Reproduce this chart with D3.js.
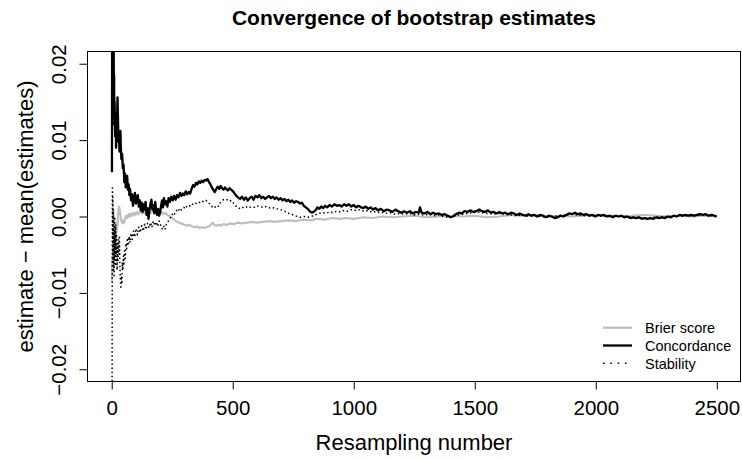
<!DOCTYPE html>
<html>
<head>
<meta charset="utf-8">
<script src="https://cdn.jsdelivr.net/npm/d3@7"></script>
<style>
  html, body { margin: 0; padding: 0; background: #fff; }
  svg { display: block; font-family: "Liberation Sans", Arial, Helvetica, sans-serif; }
</style>
</head>
<body>
<svg id="chart" width="742" height="460"></svg>
<script>
// Deviation of each running bootstrap estimate from the mean of all estimates,
// tracked against the resampling number.
const conN = [1,2,3,4,5,6,7,8,9,10,11,12,14,16,18,20,22,24,26,28,30,32,34,36,38,40,43,46,49,52,55,58,61,64,67,70,73,76,80,84,88,92,96,100,104,108,112,116,120,124,128,132,136,140,144,148,152,156,160,164,168,172,176,180,184,188,192,196,200,204,208,212,216,220,225,230,235,240,246,252,258,264,270,276,282,288,294,300,306,312,318,324,330,336,342,348,354,360,366,372,378,384,390,396,402,408,414,420,426,432,438,444,450,456,462,468,474,480,487,494,501,508,515,522,530,538,546,554,562,570,578,586,594,602,610,618,626,634,642,650,658,666,674,682,690,698,706,714,722,730,738,746,754,762,770,778,786,794,802,810,818,826,834,842,850,858,866,874,882,890,900,910,920,930,940,950,960,970,980,990,1000,1010,1020,1030,1040,1050,1060,1070,1080,1090,1100,1112,1124,1136,1148,1160,1172,1184,1196,1208,1220,1232,1244,1256,1268,1274,1280,1292,1304,1316,1328,1340,1352,1364,1376,1388,1400,1410,1422,1434,1446,1458,1470,1482,1494,1506,1518,1530,1542,1554,1566,1578,1590,1602,1614,1626,1638,1650,1662,1674,1686,1698,1710,1722,1734,1746,1758,1770,1782,1794,1806,1818,1830,1842,1854,1866,1878,1890,1902,1914,1926,1938,1950,1962,1974,1986,1998,2010,2022,2034,2046,2058,2070,2082,2094,2106,2118,2130,2142,2154,2166,2178,2190,2202,2214,2226,2238,2250,2262,2274,2286,2298,2310,2322,2334,2346,2358,2370,2382,2394,2406,2418,2430,2442,2454,2466,2478,2490,2500];
const conV = [0.0058,0.029,0.024,0.031,0.022,0.027,0.019,0.024,0.016,0.0185,0.012,0.015,0.0105,0.0135,0.009,0.011,0.0125,0.0156,0.0128,0.0098,0.0105,0.0085,0.0095,0.0112,0.0088,0.0075,0.0082,0.0063,0.0068,0.0045,0.0056,0.0038,0.0046,0.0053,0.0035,0.0042,0.0028,0.0036,0.0021,0.0029,0.0014,0.0024,0.0031,0.0017,0.0024,0.0028,0.0013,0.0021,0.0008,0.0018,0.0006,0.0016,0.0009,0.0019,0.0002,0.0011,-0.0003,0.0008,0.0016,0.0022,0.0009,0.0015,0.0004,0.0019,0.0007,0.0002,0.0010,0.0001,0.0005,0.0014,0.0021,0.0012,0.0024,0.0016,0.0020,0.0013,0.0024,0.0019,0.0026,0.0021,0.0027,0.0022,0.0028,0.0025,0.0031,0.0027,0.0030,0.0028,0.0033,0.0029,0.0032,0.0030,0.0036,0.0041,0.0039,0.0044,0.0042,0.0046,0.0044,0.0047,0.0045,0.0048,0.0047,0.0049,0.0045,0.0042,0.0038,0.0035,0.0032,0.0036,0.0039,0.0036,0.0040,0.0037,0.0035,0.0038,0.0036,0.0034,0.0037,0.0035,0.0033,0.0030,0.0027,0.0025,0.0023,0.0026,0.0022,0.0025,0.0021,0.0024,0.0026,0.0022,0.0027,0.0025,0.0028,0.0024,0.0026,0.0023,0.0025,0.0027,0.0024,0.0026,0.0023,0.0025,0.0022,0.0024,0.0021,0.0023,0.0020,0.0022,0.0019,0.0021,0.0018,0.0020,0.0019,0.0017,0.0018,0.0014,0.0012,0.0010,0.0007,0.0005,0.0006,0.0008,0.0012,0.0010,0.0013,0.0011,0.0014,0.0012,0.0015,0.0013,0.0016,0.0014,0.0015,0.0013,0.0016,0.0014,0.0016,0.0013,0.0015,0.0012,0.0014,0.0012,0.0011,0.0013,0.0010,0.0012,0.0009,0.0011,0.0008,0.0010,0.0007,0.0009,0.0008,0.0006,0.0009,0.0007,0.0005,0.0007,0.0005,0.0007,0.0004,0.0006,0.0005,0.0012,0.0005,0.0004,0.0006,0.0003,0.0005,0.0003,0.0004,0.0002,0.0003,0.0001,-0.0001,0.0000,0.0003,0.0005,0.0004,0.0007,0.0006,0.0008,0.0006,0.0007,0.0009,0.0007,0.0006,0.0008,0.0005,0.0006,0.0004,0.0006,0.0004,0.0005,0.0003,0.0005,0.0004,0.0002,0.0004,0.0002,0.0001,0.0003,0.0001,0.0002,0.0000,0.0002,0.0001,-0.0001,0.0001,0.0000,-0.0002,-0.0001,0.0001,0.0000,0.0002,0.0004,0.0003,0.0005,0.0003,0.0004,0.0002,0.0003,0.0001,0.0002,0.0000,0.0002,0.0001,0.0002,0.0000,0.0001,-0.0001,0.0001,0.0000,0.0001,-0.0001,0.0000,-0.0002,-0.0001,-0.0002,-0.0001,-0.0003,-0.0002,-0.0003,-0.0002,-0.0003,-0.0001,-0.0002,-0.0001,-0.0002,0.0000,-0.0001,0.0001,0.0000,0.0002,0.0001,0.0002,0.0001,0.0002,0.0001,0.0002,0.0003,0.0002,0.0003,0.0001,0.0002,0.0001,0.0000];

const brierN = [1,2,3,4,5,6,7,8,9,10,12,14,16,18,20,22,24,26,28,30,32,34,36,38,40,44,48,52,56,60,65,70,75,80,86,92,98,104,110,118,126,134,142,150,158,166,174,182,190,198,206,214,222,230,238,246,254,262,270,278,286,294,302,312,322,332,342,352,362,372,382,392,402,412,418,424,432,442,452,462,475,490,505,520,540,560,580,600,625,650,675,700,730,760,790,820,850,880,910,940,970,1000,1040,1080,1120,1160,1200,1250,1300,1350,1400,1450,1500,1550,1600,1650,1700,1750,1800,1850,1900,1950,2000,2050,2100,2150,2200,2250,2300,2350,2400,2450,2500];
const brierV = [-0.0085,-0.0060,-0.0078,-0.0052,-0.0068,-0.0045,-0.0058,-0.0038,-0.0050,-0.0032,-0.0042,-0.0022,-0.0030,-0.0014,-0.0020,-0.0008,-0.0013,0.0002,0.0008,0.0013,0.0011,0.0006,0.0002,-0.0003,-0.0006,-0.0009,-0.0005,-0.0008,-0.0002,0.0001,-0.0002,0.0003,0.0000,0.0004,0.0001,0.0005,0.0002,0.0006,0.0003,0.0007,0.0004,0.0006,0.0003,0.0007,0.0004,0.0006,0.0008,0.0005,0.0007,0.0004,0.0006,0.0003,0.0005,0.0002,0.0001,-0.0001,-0.0003,-0.0005,-0.0007,-0.0008,-0.0009,-0.0010,-0.0011,-0.0012,-0.0011,-0.0013,-0.0014,-0.0013,-0.0015,-0.0014,-0.0015,-0.0014,-0.0013,-0.0010,-0.0008,-0.0011,-0.0012,-0.0011,-0.0012,-0.0010,-0.0011,-0.0009,-0.0010,-0.0008,-0.0009,-0.0008,-0.0007,-0.0008,-0.0007,-0.0006,-0.0007,-0.0006,-0.0005,-0.0006,-0.0004,-0.0005,-0.0003,-0.0004,-0.0002,-0.0003,-0.0002,-0.0003,-0.0001,-0.0002,0.0000,-0.0001,0.0000,0.0001,-0.0001,0.0000,0.0001,0.0000,0.0001,-0.0001,0.0000,0.0002,0.0001,0.0002,0.0000,0.0001,0.0000,0.0001,0.0002,0.0001,0.0000,0.0001,0.0002,0.0001,0.0000,0.0001,0.0000,0.0001,0.0000];

const stabN = [1,2,3,4,5,6,7,8,9,10,11,12,13,14,15,16,18,20,22,24,26,28,30,32,34,36,38,40,42,44,46,48,50,53,56,59,62,65,68,72,76,80,85,90,95,100,106,112,118,124,130,136,142,148,154,160,166,172,178,184,190,196,202,208,214,220,226,232,238,244,250,256,262,268,274,280,286,292,298,304,310,318,326,334,342,350,358,366,374,382,390,398,406,414,422,430,438,446,454,462,470,478,486,494,502,510,518,526,534,542,550,560,570,580,590,600,612,624,636,648,660,672,684,696,708,720,732,744,756,768,780,795,810,825,840,855,870,885,900,915,930,945,960,975,990,1005,1020,1035,1050,1065,1080,1095,1110,1130,1150,1170,1190,1210,1230,1250,1270,1290,1310,1330,1350,1370,1390,1410,1430,1450,1470,1490,1510,1530,1550,1575,1600,1625,1650,1675,1700,1725,1750,1775,1800,1825,1850,1875,1900,1925,1950,1975,2000,2050,2100,2150,2200,2250,2300,2350,2400,2450,2500];
const stabV = [-0.035,-0.012,0.0040,-0.0060,0.0025,-0.0045,0.0010,-0.0070,-0.0015,-0.0080,-0.0030,0.0000,-0.0055,-0.0020,-0.0065,-0.0010,-0.0050,-0.0025,-0.0070,-0.0035,-0.0060,-0.0030,-0.0050,-0.0025,-0.0068,-0.0085,-0.0095,-0.0078,-0.0088,-0.0060,-0.0070,-0.0052,-0.0062,-0.0045,-0.0055,-0.0035,-0.0042,-0.0028,-0.0038,-0.0026,-0.0034,-0.0022,-0.0030,-0.0019,-0.0027,-0.0016,-0.0024,-0.0014,-0.0021,-0.0012,-0.0019,-0.0010,-0.0017,-0.0009,-0.0015,-0.0008,-0.0014,-0.0006,-0.0012,-0.0007,-0.0013,-0.0006,-0.0011,-0.0016,-0.0012,-0.0017,-0.0010,-0.0007,-0.0004,-0.0001,0.0003,0.0001,0.0005,0.0008,0.0006,0.0010,0.0008,0.0011,0.0012,0.0010,0.0013,0.0015,0.0013,0.0016,0.0018,0.0017,0.0019,0.0018,0.0020,0.0019,0.0021,0.0019,0.0016,0.0013,0.0011,0.0013,0.0012,0.0017,0.0020,0.0022,0.0021,0.0022,0.0020,0.0021,0.0018,0.0015,0.0012,0.0011,0.0010,0.0012,0.0011,0.0013,0.0012,0.0013,0.0012,0.0014,0.0013,0.0012,0.0013,0.0011,0.0012,0.0011,0.0010,0.0009,0.0008,0.0006,0.0004,0.0003,0.0001,0.0000,-0.0001,0.0000,-0.0001,0.0000,0.0002,0.0004,0.0005,0.0004,0.0006,0.0005,0.0007,0.0006,0.0008,0.0007,0.0009,0.0008,0.0009,0.0007,0.0008,0.0006,0.0007,0.0005,0.0006,0.0004,0.0005,0.0003,0.0004,0.0003,0.0004,0.0002,0.0003,0.0002,0.0003,0.0001,0.0002,0.0000,-0.0001,0.0000,0.0002,0.0003,0.0004,0.0005,0.0006,0.0005,0.0004,0.0003,0.0004,0.0003,0.0002,0.0001,0.0002,0.0000,0.0001,0.0000,-0.0001,0.0000,0.0001,0.0002,0.0003,0.0002,0.0001,0.0002,0.0001,0.0000,0.0001,-0.0001,-0.0002,-0.0001,0.0000,0.0001,0.0001,0.0002,0.0000];

const xTicks = [0, 500, 1000, 1500, 2000, 2500];
const yTicks = [-0.02, -0.01, 0, 0.01, 0.02];
const yTickLabels = ["\u22120.02", "\u22120.01", "0.00", "0.01", "0.02"];
const seriesNames = ["Brier score", "Concordance", "Stability"];

const titleText = "Convergence of bootstrap estimates";
const xTitle = "Resampling number";
const yTitle = "estimate \u2212 mean(estimates)";

[[conN, conV], [brierN, brierV], [stabN, stabV]].forEach(([a, b], i) => {
  if (a.length !== b.length) throw new Error(`series ${i}: ${a.length} vs ${b.length}`);
});

const svg = d3.select("#chart");
const pLeft = 87.5, pRight = 740.5, pTop = 51.5, pBottom = 381.5;

const x = d3.scaleLinear().domain([-100, 2600]).range([pLeft, pRight + 0.5]);
const y = d3.scaleLinear().domain([-0.0216, 0.0216]).range([pBottom, pTop]);

svg.append("defs").append("clipPath").attr("id", "plotclip")
  .append("rect").attr("x", pLeft).attr("y", pTop)
  .attr("width", pRight - pLeft).attr("height", pBottom - pTop);

const line = d3.line().x(d => x(d[0])).y(d => y(d[1]));
const zipS = (ns, vs) => ns.map((n, i) => [n, vs[i]]);

const styles = [
  { data: zipS(brierN, brierV), stroke: "#bebebe", width: 2.2, dash: null, legendDash: null },
  { data: zipS(conN, conV), stroke: "#000", width: 2.3, dash: null, legendDash: null },
  { data: zipS(stabN, stabV), stroke: "#000", width: 1.5, dash: "1.5,2.6", legendDash: "1.6,5.7" }
];

const plot = svg.append("g").attr("clip-path", "url(#plotclip)");
styles.forEach(s => {
  plot.append("path").datum(s.data)
    .attr("d", line)
    .attr("fill", "none")
    .attr("stroke", s.stroke)
    .attr("stroke-width", s.width)
    .attr("stroke-linejoin", "round")
    .attr("stroke-dasharray", s.dash);
});

// frame
svg.append("rect").attr("x", pLeft).attr("y", pTop)
  .attr("width", pRight - pLeft).attr("height", pBottom - pTop)
  .attr("fill", "none").attr("stroke", "#000").attr("stroke-width", 1);

// x axis
const xAxis = svg.append("g").attr("transform", `translate(0,${pBottom})`)
  .call(d3.axisBottom(x).tickValues(xTicks).tickFormat(d3.format("d"))
    .tickSize(8).tickSizeOuter(0).tickPadding(11));
xAxis.select(".domain").remove();
xAxis.selectAll("line").attr("stroke", "#000");
xAxis.selectAll("text").attr("font-size", 20.5).attr("fill", "#000")
  .attr("font-family", "Liberation Sans, Arial, sans-serif");

// y axis with labels running parallel to the axis
const yAxis = svg.append("g").attr("transform", `translate(${pLeft},0)`)
  .call(d3.axisLeft(y).tickValues(yTicks)
    .tickFormat((d, i) => yTickLabels[i]).tickSize(8).tickSizeOuter(0));
yAxis.select(".domain").remove();
yAxis.selectAll("line").attr("stroke", "#000");
yAxis.selectAll("text")
  .attr("x", 0).attr("y", -21.5).attr("dy", 0)
  .attr("transform", "rotate(-90)")
  .attr("text-anchor", "middle")
  .attr("font-size", 20.5).attr("fill", "#000")
  .attr("font-family", "Liberation Sans, Arial, sans-serif");

// titles
svg.append("text").attr("x", (pLeft + pRight) / 2).attr("y", 25)
  .attr("text-anchor", "middle").attr("font-weight", "bold")
  .attr("font-size", 21).text(titleText);
svg.append("text").attr("x", (pLeft + pRight) / 2).attr("y", 450)
  .attr("text-anchor", "middle").attr("font-size", 22).text(xTitle);
svg.append("text")
  .attr("transform", `translate(33,${(pTop + pBottom) / 2}) rotate(-90)`)
  .attr("text-anchor", "middle").attr("font-size", 22).text(yTitle);

// legend
const legend = svg.append("g");
const rowY = [327.7, 345.5, 363.3];
seriesNames.forEach((name, i) => {
  const s = styles[i];
  legend.append("line").attr("x1", 603).attr("x2", 632)
    .attr("y1", rowY[i]).attr("y2", rowY[i])
    .attr("stroke", s.stroke).attr("stroke-width", s.width)
    .attr("stroke-dasharray", s.legendDash);
  legend.append("text").attr("x", 645).attr("y", rowY[i] + 5.2)
    .attr("font-size", 14.5).text(name);
});
</script>
</body>
</html>
